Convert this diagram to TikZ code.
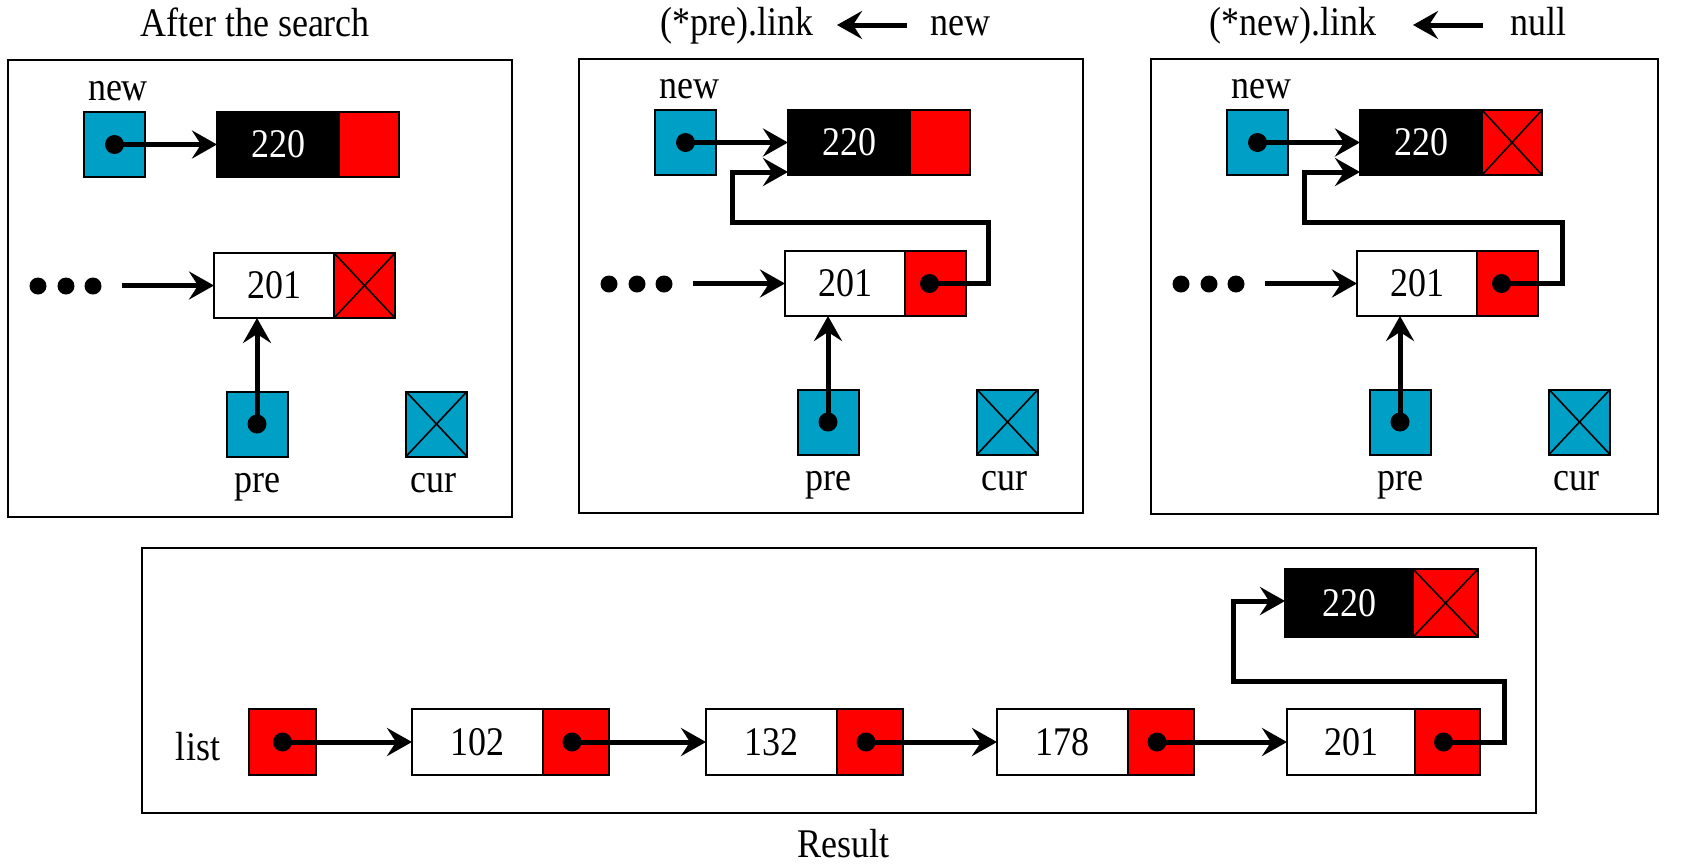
\documentclass[tikz,border=0pt]{standalone}
\usepackage{fontspec}
\setmainfont{Liberation Serif}
\usetikzlibrary{arrows.meta}
\definecolor{ptrblue}{RGB}{0,160,198}
\definecolor{linkred}{RGB}{255,0,0}
\newcommand\tx[1]{\scalebox{1}[1.13]{#1}}
\tikzset{
  every node/.style={inner sep=0pt, outer sep=0pt, font=\fontsize{18}{20}\selectfont},
  frame/.style={draw, line width=1.3pt},
  lbl/.style={anchor=base},
  ptr/.style={draw, fill=ptrblue, line width=1pt, minimum width=30.5pt, minimum height=32.5pt},
  datab/.style={draw, fill=white, line width=1pt, minimum width=60pt, minimum height=32.5pt},
  newdata/.style={datab, fill=black, text=white},
  linkb/.style={draw, fill=linkred, line width=1pt, minimum width=30.5pt, minimum height=32.5pt, anchor=west},
  crossed/.style={path picture={\draw[line width=0.8pt]
      (path picture bounding box.south west) -- (path picture bounding box.north east)
      (path picture bounding box.north west) -- (path picture bounding box.south east);}},
  pdot/.style={circle, fill=black, minimum size=9.5pt},
  edot/.style={circle, fill=black, minimum size=8.5pt},
  arr/.style={line width=2.5pt, -{Stealth[length=12.5pt,width=14pt,inset=4.5pt]}},
  bent/.style={arr, line join=miter},
  bdata/.style={datab, minimum width=65.5pt, minimum height=33pt},
  blink/.style={linkb, minimum width=33pt, minimum height=33pt}
}
\begin{document}
\begin{tikzpicture}[x=0.5pt,y=-0.5pt]
\useasboundingbox (0,0) rectangle (1706,863);

% ---------------- titles ----------------
\node[lbl] (t1) at (255,36) {\tx{After the search}};
\node[lbl] (t2a) at (737,35) {\tx{(*pre).link}};
\node[lbl] (t2b) at (960,35) {\tx{new}};
\coordinate (t2s) at (907,25);
\coordinate (t2e) at (837,25);
\draw[arr] (t2s) -- (t2e);
\node[lbl] (t3a) at (1293,35) {\tx{(*new).link}};
\node[lbl] (t3b) at (1538,35) {\tx{null}};
\coordinate (t3s) at (1483,25);
\coordinate (t3e) at (1413,25);
\draw[arr] (t3s) -- (t3e);

% ---------------- panel 1 ----------------
\draw[frame] (8,60) rectangle (512,517);
\node[lbl] (p1newl) at (118,100) {\tx{new}};
\node[ptr] (p1new) at (114.5,144.5) {};
\node[newdata, minimum width=61pt] (p1d220) at (278,144.5) {\tx{220}};
\node[linkb, minimum width=30pt] (p1l220) at (p1d220.east) {};
\node[datab] (p1d201) at (274,285.5) {\tx{201}};
\node[linkb, crossed] (p1l201) at (p1d201.east) {};
\node[edot] (p1e1) at (38,286) {};
\node[edot] (p1e2) at (66,286) {};
\node[edot] (p1e3) at (93,286) {};
\coordinate (p1s) at (122,285.5);
\node[ptr] (p1pre) at (257,424) {};
\node[ptr, crossed] (p1cur) at (436.5,424) {};
\node[lbl] (p1prel) at (257,492) {\tx{pre}};
\node[lbl] (p1curl) at (433,492) {\tx{cur}};
\draw[arr] (p1new.center) -- (p1d220.west);
\draw[arr] (p1s) -- (p1d201.west);
\draw[arr] (p1pre.center) -- (p1pre.center |- p1d201.south);
\node[pdot] (p1newdot) at (p1new.center) {};
\node[pdot] (p1predot) at (p1pre.center) {};

% ---------------- panel 2 ----------------
\begin{scope}[shift={(571,-2)}]
\draw[frame] (8,61) rectangle (512,515);
\node[lbl] (p2newl) at (118,100) {\tx{new}};
\node[ptr] (p2new) at (114.5,144.5) {};
\node[newdata, minimum width=61pt] (p2d220) at (278,144.5) {\tx{220}};
\node[linkb, minimum width=30pt] (p2l220) at (p2d220.east) {};
\node[datab] (p2d201) at (274,285.5) {\tx{201}};
\node[linkb] (p2l201) at (p2d201.east) {};
\node[edot] (p2e1) at (38,286) {};
\node[edot] (p2e2) at (66,286) {};
\node[edot] (p2e3) at (93,286) {};
\coordinate (p2s) at (122,285.5);
\node[ptr] (p2pre) at (257,424) {};
\node[ptr, crossed] (p2cur) at (436.5,424) {};
\node[lbl] (p2prel) at (257,492) {\tx{pre}};
\node[lbl] (p2curl) at (433,492) {\tx{cur}};
\draw[arr] (p2new.center) -- (p2d220.west);
\draw[arr] (p2s) -- (p2d201.west);
\draw[arr] (p2pre.center) -- (p2pre.center |- p2d201.south);
\coordinate (p2ld) at ([xshift=-3pt]p2l201.center);
\draw[bent] (p2ld) -| (417,224) -| (161,174) -- (p2d220.west |- 0,174);
\node[pdot] (p2newdot) at (p2new.center) {};
\node[pdot] (p2predot) at (p2pre.center) {};
\node[pdot] (p2linkdot) at (p2ld) {};
\end{scope}

% ---------------- panel 3 ----------------
\begin{scope}[shift={(1143,-2)}]
\draw[frame] (8,61) rectangle (515,516);
\node[lbl] (p3newl) at (118,100) {\tx{new}};
\node[ptr] (p3new) at (114.5,144.5) {};
\node[newdata, minimum width=61pt] (p3d220) at (278,144.5) {\tx{220}};
\node[linkb, minimum width=30pt, crossed] (p3l220) at (p3d220.east) {};
\node[datab] (p3d201) at (274,285.5) {\tx{201}};
\node[linkb] (p3l201) at (p3d201.east) {};
\node[edot] (p3e1) at (38,286) {};
\node[edot] (p3e2) at (66,286) {};
\node[edot] (p3e3) at (93,286) {};
\coordinate (p3s) at (122,285.5);
\node[ptr] (p3pre) at (257,424) {};
\node[ptr, crossed] (p3cur) at (436.5,424) {};
\node[lbl] (p3prel) at (257,492) {\tx{pre}};
\node[lbl] (p3curl) at (433,492) {\tx{cur}};
\draw[arr] (p3new.center) -- (p3d220.west);
\draw[arr] (p3s) -- (p3d201.west);
\draw[arr] (p3pre.center) -- (p3pre.center |- p3d201.south);
\coordinate (p3ld) at ([xshift=-3pt]p3l201.center);
\draw[bent] (p3ld) -| (419,224) -| (161,174) -- (p3d220.west |- 0,174);
\node[pdot] (p3newdot) at (p3new.center) {};
\node[pdot] (p3predot) at (p3pre.center) {};
\node[pdot] (p3linkdot) at (p3ld) {};
\end{scope}

% ---------------- result panel ----------------
\draw[frame] (142,548) rectangle (1536,813);
\node[lbl] (listl) at (198,760) {\tx{list}};
\node[ptr, fill=linkred, minimum width=33.5pt, minimum height=33pt] (list) at (282.5,742) {};
\node[bdata] (b102) at (477.5,742) {\tx{102}};
\node[blink] (b102l) at (b102.east) {};
\node[bdata] (b132) at (771.5,742) {\tx{132}};
\node[blink] (b132l) at (b132.east) {};
\node[bdata] (b178) at (1062.5,742) {\tx{178}};
\node[blink] (b178l) at (b178.east) {};
\node[bdata, minimum width=64pt] (b201) at (1351,742) {\tx{201}};
\node[blink, minimum width=32.5pt] (b201l) at (b201.east) {};
\node[newdata, minimum width=64pt, minimum height=34pt] (b220) at (1349,603) {\tx{220}};
\node[linkb, crossed, minimum width=32.5pt, minimum height=34pt] (b220l) at (b220.east) {};
\coordinate (b102ld) at ([xshift=-2pt]b102l.center);
\coordinate (b132ld) at ([xshift=-2pt]b132l.center);
\coordinate (b178ld) at ([xshift=-2pt]b178l.center);
\coordinate (b201ld) at ([xshift=-2pt]b201l.center);
\draw[arr] (list.center) -- (b102.west);
\draw[arr] (b102ld) -- (b132.west);
\draw[arr] (b132ld) -- (b178.west);
\draw[arr] (b178ld) -- (b201.west);
\draw[bent] (b201ld) -| (1504,681) -| (1233,601) -- (b220.west |- 0,601);
\node[pdot] (listdot) at (list.center) {};
\node[pdot] (b102dot) at (b102ld) {};
\node[pdot] (b132dot) at (b132ld) {};
\node[pdot] (b178dot) at (b178ld) {};
\node[pdot] (b201dot) at (b201ld) {};
\node[lbl] (result) at (843,857) {\tx{Result}};
\end{tikzpicture}
\end{document}
